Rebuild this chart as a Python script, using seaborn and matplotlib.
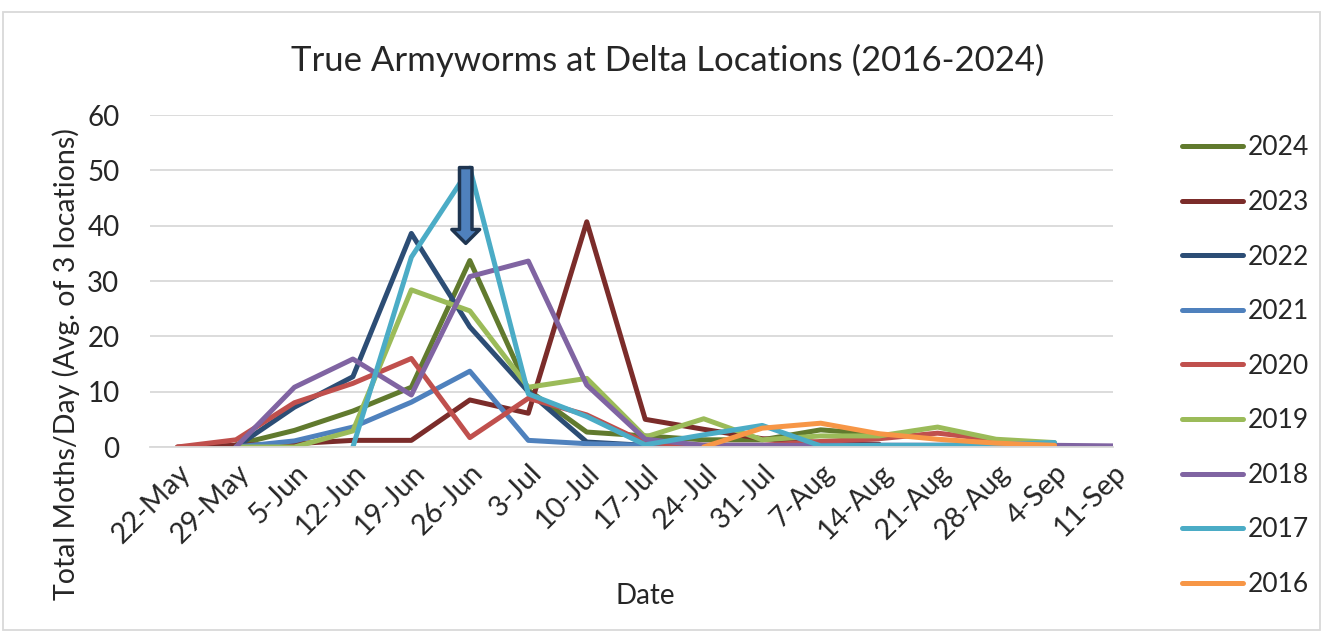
import matplotlib.pyplot as plt
import matplotlib.patches as mpatches
import seaborn as sns
import pandas as pd
import numpy as np

nan = np.nan

# Week labels (x categories)
DATES = ['22-May', '29-May', '5-Jun', '12-Jun', '19-Jun', '26-Jun', '3-Jul', '10-Jul',
         '17-Jul', '24-Jul', '31-Jul', '7-Aug', '14-Aug', '21-Aug', '28-Aug', '4-Sep', '11-Sep']

# Moths/day per year (nan = no trapping that week)
Y2024 = [nan, 0.4, 3.0, 6.5, 10.8, 33.7, 10.3, 2.7, 2.0, 1.3, 1.3, 3.1, 2.3, nan, nan, nan, nan]
Y2023 = [0.0, 0.3, 0.6, 1.2, 1.2, 8.5, 6.1, 40.7, 5.0, 3.2, 1.5, 0.8, 0.5, nan, nan, nan, nan]
Y2022 = [nan, 0.0, 7.2, 12.7, 38.6, 21.7, 10.0, 0.9, 0.3, nan, nan, nan, nan, nan, nan, nan, nan]
Y2021 = [nan, 0.0, 1.1, 3.6, 8.1, 13.7, 1.2, 0.6, 0.3, 0.3, 0.3, 0.3, 0.3, 0.3, 0.3, nan, nan]
Y2020 = [0.0, 1.3, 8.0, 11.5, 16.0, 1.7, 8.8, 5.8, 0.8, 0.3, 0.3, 1.0, 1.5, 2.5, 1.3, nan, nan]
Y2019 = [nan, 0.0, 0.0, 2.9, 28.4, 24.6, 10.8, 12.4, 1.8, 5.1, 1.3, 2.0, 2.0, 3.6, 1.4, 0.8, nan]
Y2018 = [nan, 0.0, 10.8, 15.9, 9.4, 30.8, 33.6, 11.2, 1.4, 0.3, 0.3, 0.3, 0.3, 0.3, 0.3, 0.3, 0.2]
Y2017 = [nan, nan, nan, 0.0, 34.3, 50.4, 9.6, 5.5, 0.4, 2.2, 3.9, 0.2, 0.3, 0.3, 0.5, 0.8, nan]
Y2016 = [nan, nan, nan, nan, nan, nan, nan, nan, nan, 0.0, 3.4, 4.3, 2.4, 1.4, 0.7, 0.3, nan]

YEARS = ['2024', '2023', '2022', '2021', '2020', '2019', '2018', '2017', '2016']
SERIES = [Y2024, Y2023, Y2022, Y2021, Y2020, Y2019, Y2018, Y2017, Y2016]
COLORS = ['#617A2E', '#7B2C2A', '#2C4D75', '#4F81BD', '#C0504D',
          '#9BBB59', '#8064A2', '#4BACC6', '#F79646']

rows = []
for year, vals in zip(YEARS, SERIES):
    for i, v in enumerate(vals):
        if not np.isnan(v):
            rows.append({'idx': i, 'Moths': v, 'Year': year})
df = pd.DataFrame(rows)

sns.set_theme(style="white")
plt.rcParams['font.family'] = ['Lato', 'DejaVu Sans']

fig = plt.figure(figsize=(13.25, 6.38), dpi=100)
ax = fig.add_axes([150 / 1325, 1 - 447 / 638, 963 / 1325, 332 / 638])

sns.lineplot(data=df, x='idx', y='Moths', hue='Year', hue_order=YEARS,
             palette=dict(zip(YEARS, COLORS)), linewidth=3.6, ax=ax,
             estimator=None, sort=True)

ax.set_xlim(-0.47, 16)
ax.set_ylim(0, 60)
ax.set_yticks(range(0, 61, 10))
ax.yaxis.grid(True, color='#D9D9D9', linewidth=1.3)
ax.set_axisbelow(True)
for s in ['top', 'right', 'left']:
    ax.spines[s].set_visible(False)
ax.spines['bottom'].set_color('#D9D9D9')
ax.spines['bottom'].set_linewidth(1.3)

ax.set_xticks(range(len(DATES)))
ax.set_xticklabels(DATES, rotation=45, ha='right', rotation_mode='anchor')
ax.set_xticks(np.arange(-0.47, 16, 1.0), minor=True)
ax.tick_params(axis='x', which='major', length=0, labelsize=20.5, pad=9)
ax.tick_params(axis='x', which='minor', length=8, width=1.3, color='#D9D9D9', direction='out')
ax.tick_params(axis='y', length=0, labelsize=20, pad=22)

ax.set_xlabel('Date', fontsize=20)
ax.xaxis.set_label_coords(0.514, -0.41)
ax.set_ylabel('Total Moths/Day (Avg. of 3 locations)', fontsize=20.5)
ax.yaxis.set_label_coords(-0.073, 0.25)

fig.text(0.504, 0.906, 'True Armyworms at Delta Locations (2016-2024)',
         ha='center', va='center', fontsize=25)

# Arrow pointing at the 2017 peak
ax.annotate('', xy=(4.93, 36.3), xytext=(4.93, 51.0),
            arrowprops=dict(arrowstyle='simple,head_length=1.0,head_width=2.0,tail_width=0.9',
                            mutation_scale=10, facecolor='#4F81BD', edgecolor='#1F3550',
                            linewidth=2.5))

ax.legend(loc='upper left', bbox_to_anchor=(1.047, 1.01), frameon=False, fontsize=19,
          labelspacing=1.12, handlelength=2.3, handletextpad=0.2)

fig.add_artist(mpatches.Rectangle((3 / 1325, 8 / 638), 1317 / 1325, 618 / 638,
                                  transform=fig.transFigure, fill=False,
                                  edgecolor='#D9D9D9', linewidth=1.3))

fig.savefig('out.png', dpi=100)
